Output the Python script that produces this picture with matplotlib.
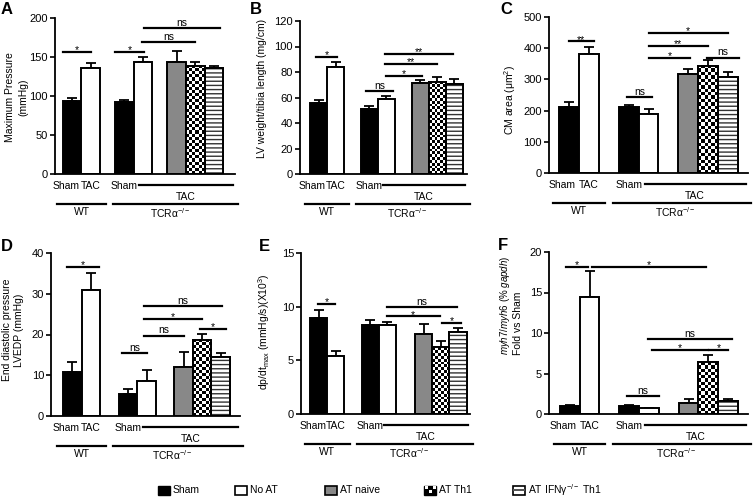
import numpy as np
import matplotlib
matplotlib.use('Agg')
import matplotlib.pyplot as plt
from matplotlib.patches import Rectangle
from matplotlib.transforms import ScaledTranslation

plt.rcParams['font.family'] = ['Liberation Sans', 'DejaVu Sans']
plt.rcParams['mathtext.fontset'] = 'custom'
plt.rcParams['mathtext.rm'] = 'Liberation Sans'
plt.rcParams['mathtext.it'] = 'Liberation Sans:italic'
plt.rcParams['mathtext.bf'] = 'Liberation Sans:bold'
plt.rcParams['hatch.linewidth'] = 1.0

W, H = 756, 497

# bar order: WT Sham, WT TAC, TCR Sham, TCR TAC (No AT), AT naive, AT Th1, AT IFNg-/- Th1
legend_names = ['Sham', 'No AT', 'AT naive', 'AT Th1', 'AT IFNγ$^{-/-}$ Th1']

max_pressure = [93, 136, 92, 144, 144, 139, 136]
max_pressure_err = [5, 6, 2.5, 6, 14, 4, 2]

lv_weight = [56, 84.3, 51.3, 58.6, 71.5, 72.3, 70.7]
lv_weight_err = [2, 3.7, 1.7, 2.9, 2.5, 3.7, 3.6]

cm_area = [210, 382, 213, 190, 318, 344, 308]
cm_area_err = [19, 21, 6, 15, 15, 18, 17]

lvedp = [10.9, 30.8, 5.4, 8.6, 12.1, 18.7, 14.4]
lvedp_err = [2.3, 4.3, 1.2, 2.8, 3.6, 1.5, 1.0]

dpdt = [8.94, 5.45, 8.32, 8.25, 7.5, 6.23, 7.66]
dpdt_err = [0.78, 0.44, 0.4, 0.28, 0.91, 0.53, 0.34]

myh_ratio = [1.0, 14.5, 1.0, 0.7, 1.3, 6.4, 1.56]
myh_ratio_err = [0.1, 3.1, 0.1, 0.1, 0.5, 0.9, 0.25]

# significance bars: (x from, x to, height, label)
sig_a = [(-0.5, 1.0, 157, '*'), (2.3, 3.85, 157, '*'),
         (3.75, 6.6, 169, 'ns'), (3.85, 7.9, 187, 'ns')]
sig_b = [(-0.15, 1.1, 92, '*'), (2.8, 4.4, 65, 'ns'), (4.0, 6.1, 77, '*'),
         (3.9, 7.0, 86.6, '**'), (3.9, 7.9, 94.5, '**')]
sig_c = [(0, 1.25, 422, '**'), (2.9, 4.2, 242, 'ns'), (4.0, 6.1, 370, '*'),
         (4.0, 7.0, 407, '**'), (4.0, 8.0, 449, '*'), (6.95, 8.55, 370, 'ns')]
sig_d = [(-0.3, 1.45, 36.6, '*'), (2.7, 4.0, 15.4, 'ns'), (3.85, 6.0, 19.75, 'ns'),
         (3.85, 7.0, 23.85, '*'), (3.85, 8.05, 26.9, 'ns'), (6.9, 8.3, 21.4, '*')]
sig_e = [(-0.05, 0.95, 10.25, '*'), (3.95, 8.05, 9.93, 'ns'),
         (3.95, 7.05, 9.1, '*'), (7.2, 8.25, 8.47, '*')]
sig_f = [(-0.2, 0.9, 18.15, '*'), (1.1, 6.9, 18.15, '*'), (2.9, 4.5, 2.2, 'ns'),
         (3.95, 8.2, 9.2, 'ns'), (4.15, 7.0, 7.9, '*'), (7.05, 8.0, 7.9, '*')]

fig = plt.figure(figsize=(W / 100, H / 100), dpi=100)


def below(ax, dy):
    return ax.get_xaxis_transform() + ScaledTranslation(0, -dy / 100, fig.dpi_scale_trans)


def draw_panel(box, xlim, pos, ymax, step, vals, errs, sigs):
    left, right, y0, ytop = box
    ax = fig.add_axes([left / W, 1 - y0 / H, (right - left) / W, (y0 - ytop) / H])
    pos = np.array(pos, dtype=float)
    ppx = (right - left) / (xlim[1] - xlim[0])
    ppy = (y0 - ytop) / ymax

    ax.errorbar(pos, vals, yerr=[np.zeros(len(vals)), errs], fmt='none', ecolor='k',
                elinewidth=1.3, capsize=3.3, capthick=1.3, zorder=1)
    fills = ['k', 'white', 'k', 'white', '#888888', 'white', 'white']
    ax.bar(pos, vals, width=1, color=fills, edgecolor='k', linewidth=1.4, zorder=2)

    # checkerboard bar (AT Th1)
    cell = ppx / 6
    ny = max(1, int(round(vals[5] * ppy / cell)))
    board = np.add.outer(np.arange(ny), np.arange(6)) % 2
    ax.imshow(board, cmap='gray', extent=(pos[5] - 0.5, pos[5] + 0.5, 0, vals[5]),
              origin='lower', aspect='auto', interpolation='nearest', zorder=2.2)
    # striped bar (AT IFNg-/- Th1)
    ax.bar(pos[6], vals[6], width=1, color='white', edgecolor='#333333', hatch='----',
           linewidth=0, zorder=2.2)
    ax.bar(pos[5:], vals[5:], width=1, fill=False, edgecolor='k', linewidth=1.4, zorder=3)

    for x1, x2, y, lab in sigs:
        ax.plot([x1, x2], [y, y], color='k', lw=1.6, clip_on=False, zorder=4)
        off = -2.5 if '*' in lab else 0.3
        ax.annotate(lab, ((x1 + x2) / 2, y), xytext=(0, off), textcoords='offset points',
                    ha='center', va='bottom', fontsize=7.5, annotation_clip=False)

    ax.set_xlim(*xlim)
    ax.set_ylim(0, ymax)
    ax.set_yticks(np.arange(0, ymax + step / 2, step))
    ax.set_xticks([])
    for s in ['top', 'right']:
        ax.spines[s].set_visible(False)
    for s in ['left', 'bottom']:
        ax.spines[s].set_linewidth(1.3)
    ax.tick_params(axis='y', length=3.5, width=1.2, labelsize=8, pad=1.5)

    # group labels under the axis
    for x, t in [(-0.35, 'Sham'), (pos[1], 'TAC'), (pos[2], 'Sham')]:
        ax.text(x, 0, t, transform=below(ax, 12), ha='center', va='center', fontsize=7.5)
    tac0, tac1 = pos[3] - 0.2, xlim[1] - 0.1
    ax.plot([tac0, tac1], [0, 0], color='k', lw=1.6, transform=below(ax, 11), clip_on=False)
    ax.text((tac0 + tac1) / 2, 0, 'TAC', transform=below(ax, 23), ha='center', va='center',
            fontsize=7.5)
    ax.plot([-0.8, 1.8], [0, 0], color='k', lw=1.6, transform=below(ax, 30), clip_on=False)
    tcr1 = xlim[1] + 0.15
    ax.plot([2.2, tcr1], [0, 0], color='k', lw=1.6, transform=below(ax, 30), clip_on=False)
    ax.text(0.5, 0, 'WT', transform=below(ax, 38), ha='center', va='center', fontsize=7.5)
    ax.text((2.2 + tcr1) / 2 - 0.3, 0, 'TCRα$^{-/-}$', transform=below(ax, 39),
            ha='center', va='center', fontsize=7.5)
    return ax


std_pos = [0, 1, 3, 4, 6, 7, 8]
draw_panel((55, 235, 174, 18), (-0.92, 8.73), [0, 1, 2.8, 3.8, 5.6, 6.6, 7.6], 200, 50,
           max_pressure, max_pressure_err, sig_a)
draw_panel((300, 467, 174, 21), (-1.09, 8.74), std_pos, 120, 20,
           lv_weight, lv_weight_err, sig_b)
draw_panel((549, 748, 173, 17), (-1.0, 9.0), std_pos, 500, 100,
           cm_area, cm_area_err, sig_c)
draw_panel((51, 240, 416, 253), (-1.15, 9.04), std_pos, 40, 10,
           lvedp, lvedp_err, sig_d)
draw_panel((301, 470, 414, 253), (-1.03, 8.8), [0, 1, 3, 4, 6.1, 7.1, 8.1], 15, 5,
           dpdt, dpdt_err, sig_e)
draw_panel((549, 748, 414, 252), (-1.05, 9.0), std_pos, 20, 5,
           myh_ratio, myh_ratio_err, sig_f)


def ftext(x, y, s, **kw):
    fig.text(x / W, 1 - y / H, s, **kw)


# y-axis titles
ylab = dict(rotation=90, ha='center', va='center', fontsize=7.5)
ftext(10, 97, 'Maximum Pressure', **ylab)
ftext(23, 97, '(mmHg)', **ylab)
ftext(262, 88, 'LV weight/tibia length (mg/cm)', **ylab)
ftext(510, 100, 'CM area (μm$^2$)', **ylab)
ftext(7, 330, 'End diastolic pressure', **ylab)
ftext(19, 330, 'LVEDP (mmHg)', **ylab)
ftext(264, 332, 'dp/dt$_{\\rm max}$ (mmHg/s)(X10$^3$)', **ylab)
ftext(505, 305, '$myh7/myh6$ ($\\%$ $gapdh$)', fontsize=7, rotation=90,
      ha='center', va='center')
ftext(518, 323, 'Fold vs Sham', **ylab)

# panel letters
for x, y, s in [(1, 2, 'A'), (250, 2, 'B'), (500, 2, 'C'),
                (1, 239, 'D'), (259, 239, 'E'), (498, 238, 'F')]:
    ftext(x, y, s, fontsize=12, fontweight='bold', ha='left', va='top')

# legend
leg_x = [158, 235, 325, 424, 513]
ly = 490
for i, (x, name) in enumerate(zip(leg_x, legend_names)):
    x0, y0 = x / W, 1 - (ly + 4.5) / H
    w, h = 12 / W, 9 / H
    if i == 0:
        fig.add_artist(Rectangle((x0, y0), w, h, transform=fig.transFigure,
                                 facecolor='k', edgecolor='k', lw=1))
    elif i == 1:
        fig.add_artist(Rectangle((x0, y0), w, h, transform=fig.transFigure,
                                 facecolor='white', edgecolor='k', lw=1.2))
    elif i == 2:
        fig.add_artist(Rectangle((x0, y0), w, h, transform=fig.transFigure,
                                 facecolor='#888888', edgecolor='k', lw=1.2))
    elif i == 3:
        fig.add_artist(Rectangle((x0, y0), w, h, transform=fig.transFigure,
                                 facecolor='k', edgecolor='k', lw=1))
        for r in range(2):
            for c in range(3):
                if (r + c) % 2 == 1:
                    fig.add_artist(Rectangle((x0 + w * c / 3 + w / 12, y0 + h * r / 2 + h / 8),
                                             w / 4, h / 3, transform=fig.transFigure,
                                             facecolor='white', lw=0))
    else:
        fig.add_artist(Rectangle((x0, y0), w, h, transform=fig.transFigure,
                                 facecolor='white', edgecolor='k', lw=1.2))
        fig.add_artist(Rectangle((x0, y0 + h * 0.35), w, h * 0.3, transform=fig.transFigure,
                                 facecolor='#555555', lw=0))
    ftext(x + 15, ly, name, fontsize=7.5, ha='left', va='center')

fig.savefig('out.png', dpi=100)
